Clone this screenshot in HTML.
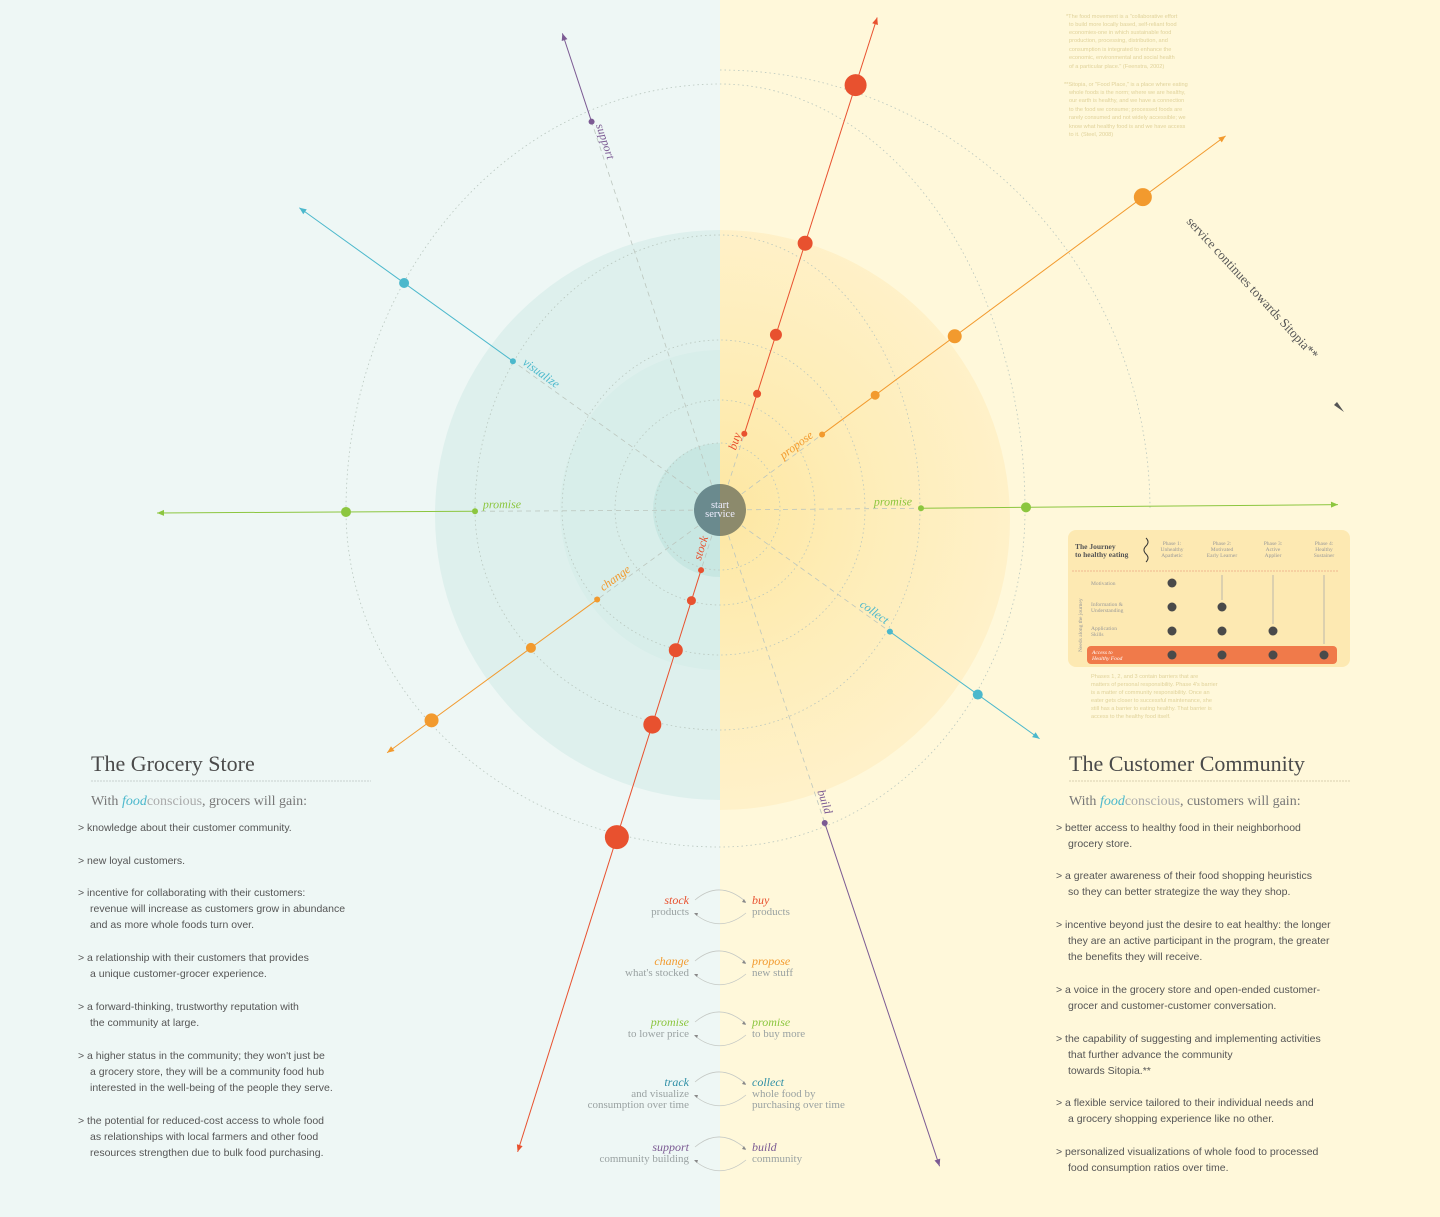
<!DOCTYPE html>
<html><head><meta charset="utf-8">
<style>
html,body{margin:0;padding:0;}
body{width:1440px;height:1217px;overflow:hidden;background:#fff;}
svg{display:block;}
.serif{font-family:"Liberation Serif",serif;}
.sans{font-family:"Liberation Sans",sans-serif;}
.bul{font-family:"Liberation Sans",sans-serif;font-size:10.5px;fill:#555;}
.note{font-family:"Liberation Sans",sans-serif;font-size:5.6px;fill:#e0d29a;}
.lab{font-family:"Liberation Serif",serif;font-style:italic;font-size:12px;}
.pair{font-family:"Liberation Serif",serif;font-size:11px;fill:#9aa2a2;}
</style></head>
<body>
<svg id="chart" width="1440" height="1217" viewBox="0 0 1440 1217" xmlns="http://www.w3.org/2000/svg">
<defs>
<clipPath id="leftHalf"><rect x="0" y="0" width="720" height="1217"/></clipPath>
<clipPath id="rightHalf"><rect x="720" y="0" width="720" height="1217"/></clipPath>
<radialGradient id="yellowGrad" cx="720" cy="510" r="292" gradientUnits="userSpaceOnUse">
<stop offset="0" stop-color="#fde7a2"/>
<stop offset="0.5" stop-color="#feedb8"/>
<stop offset="1" stop-color="#fff1c9"/>
</radialGradient>
</defs>
<rect x="0" y="0" width="720" height="1217" fill="#eef7f5"/>
<rect x="720" y="0" width="720" height="1217" fill="#fff8da"/>
<g id="discs">
<circle cx="720" cy="515" r="285" fill="#def0ed" clip-path="url(#leftHalf)"/>
<circle cx="720" cy="510" r="160" fill="#d8eeea" clip-path="url(#leftHalf)"/>
<circle cx="720" cy="510" r="67" fill="#c8e7e2" clip-path="url(#leftHalf)"/>
<circle cx="720" cy="520" r="290" fill="url(#yellowGrad)" clip-path="url(#rightHalf)"/>
</g>
<g id="rings"></g>
<g id="spokes"></g>
<g id="labels"></g>
<g>
<circle cx="720" cy="510" r="26" fill="#6a8a8e" clip-path="url(#leftHalf)"/>
<circle cx="720" cy="510" r="26" fill="#8c8a6c" clip-path="url(#rightHalf)"/>
<text x="720" y="508" text-anchor="middle" class="serif" font-size="10.5" fill="#eef">start</text>
<text x="720" y="517" text-anchor="middle" class="serif" font-size="10.5" fill="#eef">service</text>
</g>

<g>
<text class="note" x="1066" y="18">*The food movement is a "collaborative effort</text>
<text class="note" x="1069" y="26">to build more locally based, self-reliant food</text>
<text class="note" x="1069" y="34">economies-one in which sustainable food</text>
<text class="note" x="1069" y="42">production, processing, distribution, and</text>
<text class="note" x="1069" y="51">consumption is integrated to enhance the</text>
<text class="note" x="1069" y="59">economic, environmental and social health</text>
<text class="note" x="1069" y="68">of a particular place." (Feenstra, 2002)</text>
<text class="note" x="1064" y="86">**Sitopia, or "Food Place," is a place where eating</text>
<text class="note" x="1069" y="94">whole foods is the norm; where we are healthy,</text>
<text class="note" x="1069" y="102">our earth is healthy, and we have a connection</text>
<text class="note" x="1069" y="111">to the food we consume; processed foods are</text>
<text class="note" x="1069" y="119">rarely consumed and not widely accessible; we</text>
<text class="note" x="1069" y="128">know what healthy food is and we have access</text>
<text class="note" x="1069" y="136">to it. (Steel, 2008)</text>
</g>

<g>
<text x="0" y="0" transform="translate(1186,222) rotate(47.4)" class="serif" font-size="13" fill="#555">service continues towards Sitopia**</text>
<path d="M1334,405 L1344,412 L1337,402 Z" fill="#555"/>
</g>

<g>
<rect x="1068" y="530" width="282" height="137" rx="8" fill="#fde9b2"/>
<text x="1075" y="549" class="serif" font-size="7.5" font-weight="bold" fill="#555">The Journey</text>
<text x="1075" y="557" class="serif" font-size="7.5" font-weight="bold" fill="#555">to healthy eating</text>
<path d="M1146,538 q4,4 0,8 q-4,4 0,8 q4,4 0,8" stroke="#333" fill="none" stroke-width="1"/>
<g class="serif" font-size="5.5" fill="#999" text-anchor="middle">
<text x="1172" y="545">Phase 1:</text><text x="1172" y="551">Unhealthy</text><text x="1172" y="557">Apathetic</text>
<text x="1222" y="545">Phase 2:</text><text x="1222" y="551">Motivated</text><text x="1222" y="557">Early Learner</text>
<text x="1273" y="545">Phase 3:</text><text x="1273" y="551">Active</text><text x="1273" y="557">Applier</text>
<text x="1324" y="545">Phase 4:</text><text x="1324" y="551">Healthy</text><text x="1324" y="557">Sustainer</text>
</g>
<line x1="1072" y1="571" x2="1338" y2="571" stroke="#f0b890" stroke-width="1" stroke-dasharray="2 1"/>
<g class="serif" font-size="5.5" fill="#999">
<text x="1091" y="585">Motivation</text>
<text x="1091" y="606">Information &amp;</text><text x="1091" y="612">Understanding</text>
<text x="1091" y="630">Application</text><text x="1091" y="636">Skills</text>
</g>
<text transform="translate(1082,652) rotate(-90)" class="serif" font-size="5.5" fill="#999">Needs along the journey</text>
<rect x="1087" y="646" width="250" height="18" rx="4" fill="#f07a4a"/>
<text x="1092" y="654" class="serif" font-size="5.5" font-style="italic" fill="#fff">Access to</text>
<text x="1092" y="660" class="serif" font-size="5.5" font-style="italic" fill="#fff">Healthy Food</text>
<g fill="#4a4a4a">
<circle cx="1172" cy="583" r="4.5"/><circle cx="1172" cy="607" r="4.5"/><circle cx="1172" cy="631" r="4.5"/><circle cx="1172" cy="655" r="4.5"/>
<circle cx="1222" cy="607" r="4.5"/><circle cx="1222" cy="631" r="4.5"/><circle cx="1222" cy="655" r="4.5"/>
<circle cx="1273" cy="631" r="4.5"/><circle cx="1273" cy="655" r="4.5"/>
<circle cx="1324" cy="655" r="4.5"/>
</g>
<g stroke="#aaa" stroke-width="0.8"><line x1="1222" y1="575" x2="1222" y2="600"/><line x1="1273" y1="575" x2="1273" y2="624"/><line x1="1324" y1="575" x2="1324" y2="644"/></g>
<g class="note">
<text x="1091" y="678">Phases 1, 2, and 3 contain barriers that are</text>
<text x="1091" y="686">matters of personal responsibility. Phase 4's barrier</text>
<text x="1091" y="694">is a matter of community responsibility. Once an</text>
<text x="1091" y="702">eater gets closer to successful maintenance, she</text>
<text x="1091" y="710">still has a barrier to eating healthy. That barrier is</text>
<text x="1091" y="718">access to the healthy food itself.</text>
</g>
</g>

<g>
<text x="91" y="771" class="serif" font-size="22" fill="#4a4a4a">The Grocery Store</text>
<line x1="91" y1="781" x2="371" y2="781" stroke="#c8d0d0" stroke-dasharray="2 1"/>
<text x="91" y="805" class="serif" font-size="14" fill="#777">With <tspan fill="#4bb8cc" font-style="italic">food</tspan><tspan fill="#aaa">conscious</tspan>, grocers will gain:</text>
<g class="bul">
<text x="78" y="831">&gt;  knowledge about their customer community.</text>
<text x="78" y="864">&gt;  new loyal customers.</text>
<text x="78" y="896">&gt;  incentive for collaborating with their customers:</text>
<text x="90" y="912">revenue will increase as customers grow in abundance</text>
<text x="90" y="928">and as more whole foods turn over.</text>
<text x="78" y="961">&gt;  a relationship with their customers that provides</text>
<text x="90" y="977">a unique customer-grocer experience.</text>
<text x="78" y="1010">&gt;  a forward-thinking, trustworthy reputation with</text>
<text x="90" y="1026">the community at large.</text>
<text x="78" y="1059">&gt;  a higher status in the community; they won't just be</text>
<text x="90" y="1075">a grocery store, they will be a community food hub</text>
<text x="90" y="1091">interested in the well-being of the people they serve.</text>
<text x="78" y="1124">&gt;  the potential for reduced-cost access to whole food</text>
<text x="90" y="1140">as relationships with local farmers and other food</text>
<text x="90" y="1156">resources strengthen due to bulk food purchasing.</text>
</g>
</g>

<g>
<text x="1069" y="771" class="serif" font-size="22" fill="#4a4a4a">The Customer Community</text>
<line x1="1069" y1="781" x2="1350" y2="781" stroke="#d8d0b0" stroke-dasharray="2 1"/>
<text x="1069" y="805" class="serif" font-size="14" fill="#777">With <tspan fill="#4bb8cc" font-style="italic">food</tspan><tspan fill="#aaa">conscious</tspan>, customers will gain:</text>
<g class="bul">
<text x="1056" y="831">&gt;  better access to healthy food in their neighborhood</text>
<text x="1068" y="847">grocery store.</text>
<text x="1056" y="879">&gt;  a greater awareness of their food shopping heuristics</text>
<text x="1068" y="895">so they can better strategize the way they shop.</text>
<text x="1056" y="928">&gt;  incentive beyond just the desire to eat healthy: the longer</text>
<text x="1068" y="944">they are an active participant in the program, the greater</text>
<text x="1068" y="960">the benefits they will receive.</text>
<text x="1056" y="993">&gt;  a voice in the grocery store and open-ended customer-</text>
<text x="1068" y="1009">grocer and customer-customer conversation.</text>
<text x="1056" y="1042">&gt;  the capability of suggesting and implementing activities</text>
<text x="1068" y="1058">that further advance the community</text>
<text x="1068" y="1074">towards Sitopia.**</text>
<text x="1056" y="1106">&gt;  a flexible service tailored to their individual needs and</text>
<text x="1068" y="1122">a grocery shopping experience like no other.</text>
<text x="1056" y="1155">&gt;  personalized visualizations of whole food to processed</text>
<text x="1068" y="1171">food consumption ratios over time.</text>
</g>
</g>

<g id="pairs"></g>

<script>
var NS='http://www.w3.org/2000/svg';
var CX=720, CY=510;
var seriesNames=['buy','stock','propose','change','promise-right','promise-left','visualize','collect','support','build'];
var seriesLabels=['buy','stock','propose','change','promise','promise','visualize','collect','support','build'];
var seriesAngles=[-72.3,107.5,-36.5,143.9,-0.5,179.7,-144.3,35.6,-108.3,71.5];
var seriesLengths=[517,673,629,412,618,563,518,393,502,692];
var buyDots=[80,122,184,280,446];
var buySizes=[3,4,6,7.5,11];
var stockDots=[63,95,147,225,343];
var stockSizes=[3,4.5,7,9,12];
var proposeDots=[127,193,292,526];
var proposeSizes=[3,4.5,7,9];
var changeDots=[152,234,357];
var changeSizes=[3,5,7];
var promiseRDots=[201,306];
var promiseRSizes=[3,5];
var promiseLDots=[245,374];
var promiseLSizes=[3,5];
var visualizeDots=[255,389];
var visualizeSizes=[3,5];
var collectDots=[209,317];
var collectSizes=[3,5];
var supportDots=[409];
var supportSizes=[3];
var buildDots=[330];
var buildSizes=[3];
var labelDistances=[70,42,100,125,173,218,225,185,386,310];

var allDots=[buyDots,stockDots,proposeDots,changeDots,promiseRDots,promiseLDots,visualizeDots,collectDots,supportDots,buildDots];
var allSizes=[buySizes,stockSizes,proposeSizes,changeSizes,promiseRSizes,promiseLSizes,visualizeSizes,collectSizes,supportSizes,buildSizes];
var colors=['#e8512f','#e8512f','#f29a2e','#f29a2e','#8cc63f','#8cc63f','#4bb8cc','#4bb8cc','#7b5a93','#7b5a93'];

function px(a,d){return CX+Math.cos(a*Math.PI/180)*d;}
function py(a,d){return CY+Math.sin(a*Math.PI/180)*d;}
function mk(tag,attrs,parent){var e=document.createElementNS(NS,tag);for(var k in attrs)e.setAttribute(k,attrs[k]);parent.appendChild(e);return e;}

var ringShapes=[[65,60,67,60],[105,95,110,95],[158,145,170,145],[245,200,275,220],[374,305,426,337],[0,430,440,0]];
var rings=document.getElementById('rings');
ringShapes.forEach(function(s){
  var L=s[0],R=s[1],T=s[2],B=s[3],d;
  if(L===0){
    d='M'+CX+','+(CY-T)+' A'+R+','+T+' 0 0 1 '+(CX+R)+','+CY;
  } else {
    d='M'+(CX+R)+','+CY+' A'+R+','+B+' 0 0 1 '+CX+','+(CY+B)+' A'+L+','+B+' 0 0 1 '+(CX-L)+','+CY+' A'+L+','+T+' 0 0 1 '+CX+','+(CY-T)+' A'+R+','+T+' 0 0 1 '+(CX+R)+','+CY;
  }
  var c=mk('path',{d:d,fill:'none',stroke:'#b8c6be','stroke-width':0.8,'stroke-dasharray':'1.5 3'},rings);
  
  
});

var spokes=document.getElementById('spokes');
var labels=document.getElementById('labels');
seriesNames.forEach(function(n,i){
  var a=seriesAngles[i], L=seriesLengths[i], col=colors[i], dots=allDots[i], sz=allSizes[i];
  var g=mk('g',{},spokes);
  
  
  var d0=dots[0];
  var dl=mk('line',{x1:CX,y1:CY,x2:px(a,d0),y2:py(a,d0),stroke:'#bcc6be','stroke-width':0.8,'stroke-dasharray':'5 4'},g);
  
  
  var sl=mk('line',{x1:px(a,d0),y1:py(a,d0),x2:px(a,L),y2:py(a,L),stroke:col,'stroke-width':1},g);
  
  
  var ex=px(a,L), ey=py(a,L), bx=px(a,L-7), by=py(a,L-7);
  var nx=-Math.sin(a*Math.PI/180)*3, ny=Math.cos(a*Math.PI/180)*3;
  var ah=mk('path',{d:'M'+ex+','+ey+' L'+(bx+nx)+','+(by+ny)+' L'+(bx-nx)+','+(by-ny)+' Z',fill:col},g);
  
  
  dots.forEach(function(d,j){
    var c=mk('circle',{cx:px(a,d),cy:py(a,d),r:sz[j],fill:col},g);
    
    
  });
  var ld=labelDistances[i];
  var rot=a; if(rot>90) rot-=180; if(rot<-90) rot+=180;
  var t=mk('text',{'class':'lab','text-anchor':'middle',fill:col,transform:'translate('+px(a,ld)+','+py(a,ld)+') rotate('+rot+')',y:-3},labels);
  t.textContent=seriesLabels[i];
  
  
});

var pairLeftTop=['stock','change','promise','track','support'];
var pairLeftRest=[['products'],["what's stocked"],['to lower price'],['and visualize','consumption over time'],['community building']];
var pairRightTop=['buy','propose','promise','collect','build'];
var pairRightRest=[['products'],['new stuff'],['to buy more'],['whole food by','purchasing over time'],['community']];
var pairColors=['#e8512f','#f29a2e','#8cc63f','#2f8fa6','#7b5a93'];
var pairY=[904,965,1026,1086,1151];
var pairs=document.getElementById('pairs');
pairY.forEach(function(y,i){
  var g=mk('g',{},pairs);
  
  
  var t=mk('text',{x:689,y:y,'text-anchor':'end','class':'lab',fill:pairColors[i],'font-size':11},g);
  t.textContent=pairLeftTop[i];
  pairLeftRest[i].forEach(function(s,k){var r=mk('text',{x:689,y:y+11*(k+1),'text-anchor':'end','class':'pair'},g);r.textContent=s;});
  var t2=mk('text',{x:752,y:y,'class':'lab',fill:pairColors[i],'font-size':11},g);
  t2.textContent=pairRightTop[i];
  pairRightRest[i].forEach(function(s,k){var r=mk('text',{x:752,y:y+11*(k+1),'class':'pair'},g);r.textContent=s;});
  mk('path',{d:'M695,'+(y-4)+' Q720,'+(y-25)+' 746,'+(y-2),fill:'none',stroke:'#c4c8c4','stroke-width':0.8},g);
  mk('path',{d:'M746,'+(y-1)+' l-4,-1 l2,-3 Z',fill:'#888'},g);
  mk('path',{d:'M746,'+(y+9)+' Q720,'+(y+30)+' 695,'+(y+10),fill:'none',stroke:'#c4c8c4','stroke-width':0.8},g);
  mk('path',{d:'M694,'+(y+9)+' l4,0 l-1,3 Z',fill:'#888'},g);
});
</script>
</svg>
</body></html>
